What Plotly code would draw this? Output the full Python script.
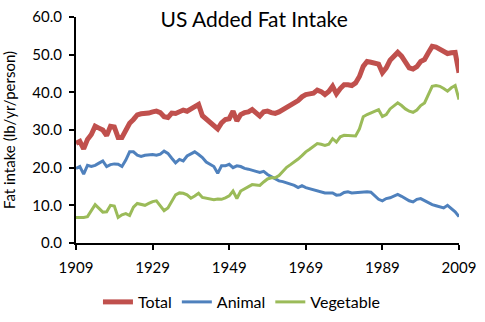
import plotly.graph_objects as go

years = list(range(1909, 2010))

total = [
    26.5, 27.0, 25.0, 27.5, 28.8, 31.0, 30.5, 30.0, 28.5, 31.0,  # 1909-1918
    30.8, 28.0, 28.0, 30.0, 31.8, 32.8, 34.0, 34.3, 34.3, 34.5,  # 1919-1928
    34.8, 35.0, 34.6, 33.5, 33.3, 34.5, 34.4, 35.0, 35.3, 35.0,  # 1929-1938
    35.6, 36.0, 36.8, 33.8, 33.0, 32.2, 31.2, 30.3, 31.9, 32.8,  # 1939-1948
    33.0, 35.0, 32.4, 34.1, 34.6, 34.8, 35.4, 34.4, 33.7, 34.8,  # 1949-1958
    35.0, 34.6, 34.4, 34.8, 35.4, 36.0, 36.5, 37.4, 37.8, 38.8,  # 1959-1968
    39.4, 39.6, 39.8, 40.6, 40.2, 39.4, 40.2, 41.6, 39.6, 41.0,  # 1969-1978
    42.0, 42.0, 41.8, 42.5, 44.2, 46.9, 48.2, 48.0, 47.8, 47.5,  # 1979-1988
    45.2, 46.5, 48.5, 49.5, 50.6, 49.6, 47.8, 46.5, 46.2, 46.8,  # 1989-1998
    48.2, 48.7, 50.5, 52.2, 52.0, 51.3, 50.8, 50.3, 50.5, 50.6,  # 1999-2008
    45.2,                                                        # 2009
]

animal = [
    19.8, 20.3, 18.3, 20.6, 20.3, 20.6, 21.2, 21.8, 20.3, 20.8,
    21.0, 20.9, 20.3, 22.0, 24.2, 24.2, 23.3, 23.0, 23.3, 23.5,
    23.5, 23.3, 23.6, 24.4, 23.8, 22.5, 21.3, 22.2, 21.8, 23.1,
    23.6, 24.2, 23.5, 22.7, 21.5, 20.9, 20.3, 18.5, 20.5, 20.5,
    20.9, 20.0, 20.5, 20.3, 19.8, 19.6, 19.4, 19.0, 18.7, 19.0,
    18.2, 17.6, 17.1, 16.5, 16.3, 16.0, 15.8, 15.3, 14.7, 15.2,
    14.7, 14.4, 14.2, 13.8, 13.6, 13.3, 13.3, 13.3, 12.7, 12.8,
    13.4, 13.6, 13.3, 13.4, 13.5, 13.6, 13.6, 13.5, 12.5, 11.6,
    11.2, 11.8, 12.0, 12.5, 12.9, 12.4, 11.8, 11.2, 10.9, 11.6,
    11.8, 11.2, 10.8, 10.2, 9.9, 9.6, 9.3, 10.0, 9.1, 8.3,
    7.0,
]

vegetable = [
    6.8, 6.8, 6.8, 7.0, 8.5, 10.2, 9.2, 8.2, 8.3, 10.0,
    9.8, 6.8, 7.5, 7.8, 7.3, 9.5, 10.5, 10.3, 10.0, 10.5,
    11.0, 11.2, 10.0, 8.6, 9.3, 11.0, 12.8, 13.3, 13.2, 12.8,
    11.9, 12.5, 13.2, 12.1, 11.9, 11.6, 11.5, 11.7, 11.6, 12.0,
    12.5, 13.8, 11.8, 13.8, 14.3, 14.9, 15.5, 15.4, 15.3, 16.2,
    17.0, 17.3, 17.3, 17.9, 19.0, 20.1, 20.8, 21.5, 22.3, 23.2,
    24.2, 24.9, 25.6, 26.4, 26.2, 25.9, 26.2, 27.7, 26.8, 28.2,
    28.6, 28.5, 28.4, 28.4, 30.3, 33.5, 34.1, 34.5, 35.0, 35.4,
    33.6, 34.1, 35.6, 36.3, 37.2, 36.5, 35.6, 35.0, 34.7, 35.3,
    36.5, 37.2, 39.5, 41.6, 41.8, 41.6, 41.0, 40.3, 41.2, 41.8,
    38.1,
]

x_ticks = [1909, 1929, 1949, 1969, 1989, 2009]
y_ticks = [0, 10, 20, 30, 40, 50, 60]

FONT = "Lato"

fig = go.Figure()
fig.add_trace(go.Scatter(x=years, y=total, name="Total", mode="lines",
                         line=dict(color="#C0504D", width=5)))
fig.add_trace(go.Scatter(x=years, y=animal, name="Animal", mode="lines",
                         line=dict(color="#4F81BD", width=3)))
fig.add_trace(go.Scatter(x=years, y=vegetable, name="Vegetable", mode="lines",
                         line=dict(color="#9BBB59", width=3)))

fig.update_layout(
    width=485, height=322,
    margin=dict(l=76, r=26, t=17, b=79, autoexpand=False),
    paper_bgcolor="white", plot_bgcolor="white",
    font=dict(family=FONT, color="black", size=15),
    title=dict(text="US Added Fat Intake", x=0.524, xanchor="center",
               y=0.938, yanchor="middle",
               font=dict(family=FONT, size=21, color="black")),
    showlegend=True,
    legend=dict(orientation="h", x=0.432, xanchor="center", y=-0.261,
                yanchor="middle", font=dict(family=FONT, size=16),
                itemwidth=30, tracegroupgap=0),
)
fig.update_xaxes(range=[1909, 2009], tickvals=x_ticks,
                 ticktext=[str(v) for v in x_ticks],
                 showgrid=False, zeroline=False, automargin=False,
                 showline=True, linecolor="black", linewidth=2,
                 ticks="outside", ticklen=5, tickwidth=2, tickcolor="black",
                 ticklabelstandoff=5,
                 tickfont=dict(family=FONT, size=15))
fig.update_yaxes(range=[0, 60], tickvals=y_ticks, tickformat=".1f",
                 showgrid=False, zeroline=False, automargin=False,
                 showline=True, linecolor="black", linewidth=2,
                 ticks="outside", ticklen=5, tickwidth=2, tickcolor="black",
                 ticklabelstandoff=4,
                 tickfont=dict(family=FONT, size=15),
                 title=dict(text="Fat intake (lb/yr/person)",
                            font=dict(family=FONT, size=15), standoff=22))

fig.write_html("out.html")
